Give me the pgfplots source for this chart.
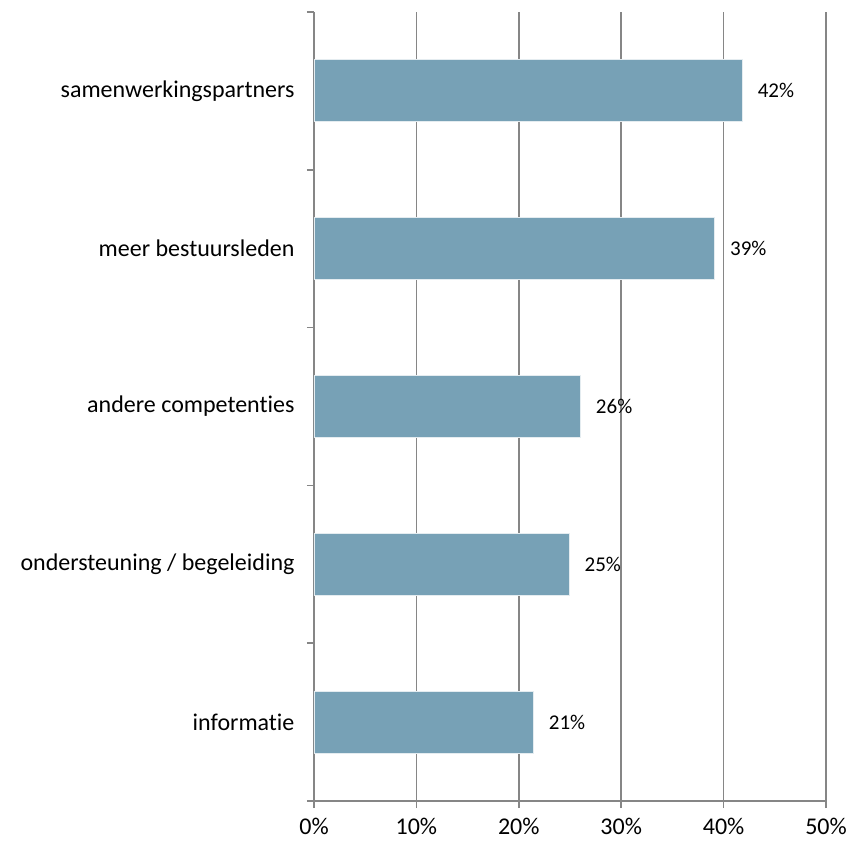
\documentclass[border=0pt]{standalone}
\usepackage{pgfplots}
\pgfplotsset{compat=1.18}
\usepackage{fontspec}
\setmainfont{Carlito}[Ligatures=NoCommon]
\definecolor{barblue}{HTML}{77A1B6}
\definecolor{axgray}{HTML}{868686}
\begin{document}
\begin{tikzpicture}
\path[use as bounding box] (-314pt,-45pt) rectangle (537pt,801pt);
\begin{axis}[
    at={(0,0)}, anchor=south west,
    scale only axis,
    width=512pt, height=789pt,
    xbar,
    bar width=62pt,
    xmin=0, xmax=50,
    ymin=-0.5, ymax=4.5,
    axis x line*=bottom,
    axis y line*=left,
    axis line style={draw=axgray, line width=1.5pt},
    xtick={0,10,...,50},
    xticklabel={\pgfmathprintnumber{\tick}\%},
    /pgf/number format/assume math mode=true,
    ytick={-0.5,0.5,1.5,2.5,3.5,4.5},
    yticklabels={},
    extra y ticks={0,1,2,3,4},
    extra y tick labels={informatie, ondersteuning / begeleiding, andere competenties, meer bestuursleden, samenwerkingspartners},
    extra y tick style={major tick length=0pt, yticklabel style={xshift=-16pt}},
    tick align=outside,
    tick style={draw=axgray, line width=1.5pt},
    major tick length=7pt,
    xticklabel style={yshift=-7pt},
    xmajorgrids,
    major grid style={draw=axgray, line width=1.5pt},
    ticklabel style={font=\fontsize{24}{28}\selectfont},
    nodes near coords,
    point meta=explicit symbolic,
    nodes near coords style={font=\fontsize{21}{25}\selectfont, anchor=west, xshift=12pt, text=black},
]
\addplot[fill=barblue, draw=white!80!barblue, line width=0.8pt] coordinates {
    (21.4,0) [21\%]
    (24.9,1) [25\%]
    (26.0,2) [26\%]
    (39.1,3) [39\%]
    (41.8,4) [42\%]
};
\end{axis}
\end{tikzpicture}
\end{document}
